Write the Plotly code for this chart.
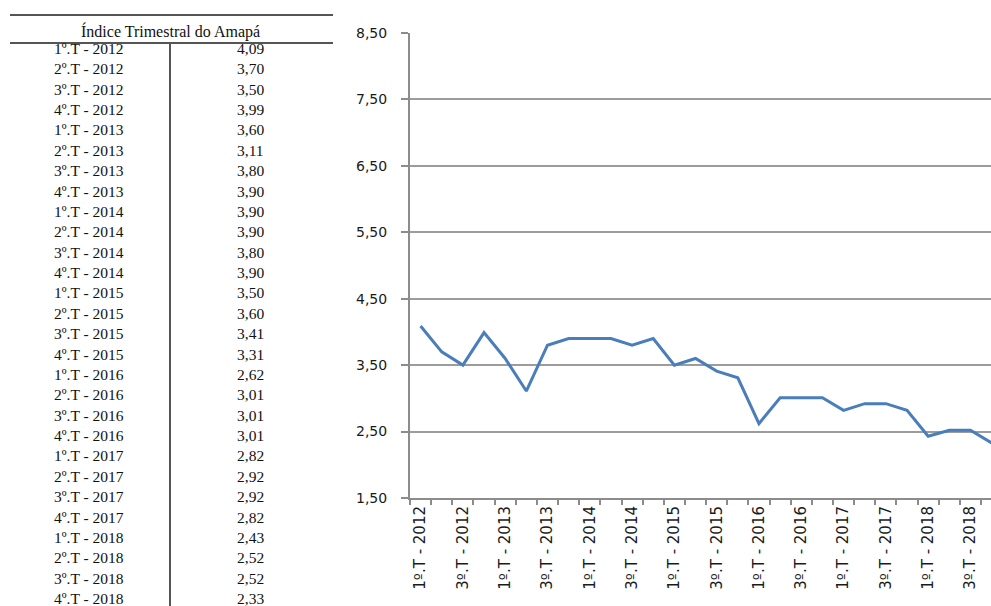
import plotly.graph_objects as go

# Quarterly index for Amapá, 2012-2018
quarters = [
    "1º.T - 2012", "2º.T - 2012", "3º.T - 2012", "4º.T - 2012",
    "1º.T - 2013", "2º.T - 2013", "3º.T - 2013", "4º.T - 2013",
    "1º.T - 2014", "2º.T - 2014", "3º.T - 2014", "4º.T - 2014",
    "1º.T - 2015", "2º.T - 2015", "3º.T - 2015", "4º.T - 2015",
    "1º.T - 2016", "2º.T - 2016", "3º.T - 2016", "4º.T - 2016",
    "1º.T - 2017", "2º.T - 2017", "3º.T - 2017", "4º.T - 2017",
    "1º.T - 2018", "2º.T - 2018", "3º.T - 2018", "4º.T - 2018",
]
index_values = [
    4.09, 3.70, 3.50, 3.99,
    3.60, 3.11, 3.80, 3.90,
    3.90, 3.90, 3.80, 3.90,
    3.50, 3.60, 3.41, 3.31,
    2.62, 3.01, 3.01, 3.01,
    2.82, 2.92, 2.92, 2.82,
    2.43, 2.52, 2.52, 2.33,
]
table_title = "Índice Trimestral do Amapá"
y_ticks = [1.5, 2.5, 3.5, 4.5, 5.5, 6.5, 7.5, 8.5]

W, H = 991, 606


def px(x):
    return x / W


def py(y):
    return 1 - y / H


xs = list(range(len(quarters)))

fig = go.Figure()
fig.add_trace(go.Scatter(
    x=xs, y=index_values, mode="lines",
    line=dict(color="#4a7ebb", width=3),
    hoverinfo="skip", showlegend=False,
))

grid_col = "#9c9c9c"
axis_col = "#8c8c8c"

fig.update_layout(
    width=W, height=H,
    margin=dict(l=0, r=0, t=0, b=0, pad=0),
    paper_bgcolor="white", plot_bgcolor="white",
    separators=",.",
    showlegend=False,
    xaxis=dict(
        domain=[px(410), 1],
        range=[-0.5, 26.97],
        automargin=False,
        tickmode="array",
        tickvals=xs[::2],
        ticktext=quarters[::2],
        tickangle=-90,
        ticks="",
        ticklabelstandoff=0,
        tickfont=dict(family="DejaVu Sans", size=15, color="#1a1a1a"),
        showgrid=False, zeroline=False,
        showline=True, linecolor=axis_col, linewidth=2,
        minor=dict(tickmode="linear", tick0=-0.5, dtick=1,
                   ticks="outside", ticklen=5, tickwidth=1.5,
                   tickcolor=axis_col, showgrid=False),
    ),
    yaxis=dict(
        domain=[py(498), py(33)],
        range=[1.5, 8.5],
        automargin=False,
        tickmode="array",
        tickvals=y_ticks,
        tickformat=".2f",
        ticks="outside", ticklen=7, tickwidth=1.5, tickcolor=axis_col,
        ticklabelstandoff=11,
        tickfont=dict(family="DejaVu Sans", size=14, color="#1a1a1a"),
        showgrid=True, gridcolor=grid_col, gridwidth=1.5,
        zeroline=False,
        showline=True, linecolor=axis_col, linewidth=2,
    ),
)

# Table on the left: rules and cells
rule_col = "#555555"
shapes = [
    dict(type="line", xref="paper", yref="paper",
         x0=px(10), x1=px(333), y0=py(15), y1=py(15),
         line=dict(color=rule_col, width=2)),
    dict(type="line", xref="paper", yref="paper",
         x0=px(10), x1=px(333), y0=py(43), y1=py(43),
         line=dict(color=rule_col, width=2)),
    dict(type="line", xref="paper", yref="paper",
         x0=px(170), x1=px(170), y0=py(43), y1=0,
         line=dict(color=rule_col, width=2)),
]

cell_font = dict(family="Liberation Serif", size=15.5, color="#111111")
annotations = [
    dict(text=table_title, xref="paper", yref="paper",
         x=px(170), y=py(31), xanchor="center", yanchor="middle",
         showarrow=False,
         font=dict(family="Liberation Serif", size=16, color="#111111")),
]

row0, row_step = 48.5, 20.37
for i, (q, v) in enumerate(zip(quarters, index_values)):
    yc = py(row0 + i * row_step)
    annotations.append(dict(
        text=q, xref="paper", yref="paper", x=px(89), y=yc,
        xanchor="center", yanchor="middle", showarrow=False, font=cell_font))
    annotations.append(dict(
        text=f"{v:.2f}".replace(".", ","), xref="paper", yref="paper",
        x=px(250), y=yc, xanchor="center", yanchor="middle", showarrow=False,
        font=cell_font))

fig.update_layout(shapes=shapes, annotations=annotations)

# page without the default body margin so the figure fills the window
fig.write_html(
    "out.html",
    post_script="document.body.style.margin='0';"
                "document.body.style.overflow='hidden';",
)
